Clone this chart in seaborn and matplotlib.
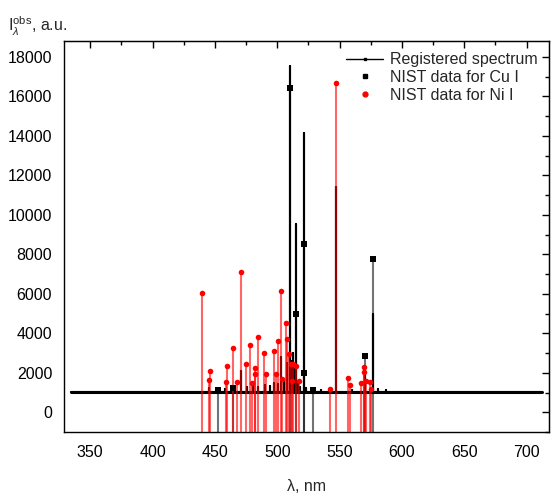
import matplotlib
matplotlib.use("Agg")
import matplotlib.pyplot as plt
import seaborn as sns
import pandas as pd
from matplotlib.lines import Line2D
from matplotlib.ticker import MultipleLocator

sns.set_style("white")
plt.rcParams['font.family'] = ['Liberation Sans', 'DejaVu Sans']
plt.rcParams['mathtext.fontset'] = 'custom'
plt.rcParams['mathtext.rm'] = 'Liberation Sans'
plt.rcParams['mathtext.it'] = 'Liberation Sans:italic'

# Registered spectrum: baseline level and emission peaks (wavelength nm, intensity a.u.)
base_level = 1050
spec_start, spec_end = 335, 712
peak_wl = [445.0, 452.6, 458.0, 464.5, 471.0, 476.0, 480.5, 485.0, 490.0, 494.0, 497.5, 500.5,
           502.9, 505.3, 507.8, 510.2, 511.5, 512.4, 513.5, 514.7, 516.5, 518.5, 521.1, 523.0,
           529.1, 535.0, 547.1, 560.0, 570.1, 577.1, 581.0, 587.0]
peak_int = [1250, 1200, 1180, 1350, 2100, 1300, 1450, 1300, 1400, 1350, 1500, 1450,
            2800, 1650, 2500, 17540, 2600, 3000, 2300, 9520, 1600, 1300, 14140, 1250,
            1200, 1150, 11420, 1150, 1900, 5000, 1200, 1150]

# NIST data for Cu I
cu_wl = [452.6, 464.4, 510.2, 514.7, 521.1, 521.6, 529.1, 570.1, 577.1]
cu_int = [1120, 1240, 16440, 4980, 8500, 2000, 1150, 2850, 7780]

# NIST data for Ni I
ni_wl = [439.5, 445.4, 446.0, 459.2, 459.8, 464.6, 468.1, 471.0, 475.1, 478.0, 480.0, 482.1, 482.4,
         484.9, 489.8, 491.1, 497.4, 499.3, 501.0, 502.9, 504.2, 507.2, 507.7, 509.1, 511.0, 512.0,
         512.8, 515.0, 517.1, 542.6, 547.1, 556.9, 558.6, 567.6, 569.3, 569.8, 571.0, 574.7, 575.3]
ni_int = [6030, 1620, 2110, 1515, 2360, 3260, 1510, 7110, 2430, 3390, 1480, 2250, 1930,
          3830, 3010, 1930, 3120, 1930, 3620, 6130, 1680, 4530, 3700, 2970, 2450, 1580,
          2450, 2330, 1580, 1190, 16660, 1750, 1400, 1500, 2300, 2040, 1600, 1550, 1200]

x_ticks = [350, 400, 450, 500, 550, 600, 650, 700]
y_ticks = [0, 2000, 4000, 6000, 8000, 10000, 12000, 14000, 16000, 18000]

# build the spectrum trace: baseline with sharp spikes at each peak
wl_trace, int_trace = [spec_start], [base_level]
for w, v in zip(peak_wl, peak_int):
    wl_trace += [w, w, w]
    int_trace += [base_level, v, base_level]
wl_trace.append(spec_end)
int_trace.append(base_level)
spec = pd.DataFrame({"wl": wl_trace, "I": int_trace})
cu = pd.DataFrame({"wl": cu_wl, "I": cu_int})
ni = pd.DataFrame({"wl": ni_wl, "I": ni_int})

FS = 11.5
YMIN, YMAX = -1000, 18800
XMIN, XMAX = 329, 718

fig = plt.figure(figsize=(5.51, 4.94), dpi=100)
ax = fig.add_axes([64/551, 1-432/494, (549-64)/551, (432-41)/494])

sns.lineplot(data=spec, x="wl", y="I", ax=ax, color="black", lw=1.5, estimator=None,
             sort=False, zorder=2)
ax.plot([spec_start, spec_end], [base_level, base_level], color="black", lw=2.2, zorder=2)
ax.vlines(cu["wl"], YMIN, cu["I"], color="black", alpha=0.55, lw=1.5, zorder=3)
ax.vlines(ni["wl"], YMIN, ni["I"], color="red", alpha=0.6, lw=1.5, zorder=4)
sns.scatterplot(data=cu, x="wl", y="I", ax=ax, color="black", marker="s", s=14,
                linewidth=0, zorder=5)
sns.scatterplot(data=ni, x="wl", y="I", ax=ax, color="red", marker="o", s=16,
                linewidth=0, zorder=6)

ax.set_xlim(XMIN, XMAX)
ax.set_ylim(YMIN, YMAX)
ax.set_xticks(x_ticks)
ax.set_yticks(y_ticks)
ax.xaxis.set_minor_locator(MultipleLocator(25))
ax.yaxis.set_minor_locator(MultipleLocator(1000))
ax.tick_params(which="both", direction="out", top=False, right=False, colors="black",
               labelsize=FS, width=1)
ax.tick_params(which="major", length=5)
ax.tick_params(which="minor", length=3)
ax.tick_params(axis="x", pad=4)
for s in ax.spines.values():
    s.set_color("black")
    s.set_linewidth(1)

secx = ax.secondary_xaxis("top")
secx.set_xticks(x_ticks)
secx.xaxis.set_minor_locator(MultipleLocator(25))
secx.tick_params(which="both", direction="in", labeltop=False, width=1, colors="black")
secx.tick_params(which="major", length=5)
secx.tick_params(which="minor", length=3)
secy = ax.secondary_yaxis("right")
secy.set_yticks(y_ticks)
secy.yaxis.set_minor_locator(MultipleLocator(1000))
secy.tick_params(which="both", direction="in", labelright=False, width=1, colors="black")
secy.tick_params(which="major", length=5)
secy.tick_params(which="minor", length=3)

ax.set_xlabel("λ, nm", fontsize=FS, labelpad=14)
ax.set_ylabel("")
fig.text(8/551, 1-32/494, r"I$_{\lambda}^{\mathrm{obs}}$, a.u.", fontsize=FS,
         ha="left", va="baseline")

handles = [
    Line2D([], [], color="black", lw=1, marker="s", markersize=2),
    Line2D([], [], color="black", lw=0, marker="s", markersize=3.5),
    Line2D([], [], color="red", lw=0, marker="o", markersize=3.5),
]
labels = ["Registered spectrum", "NIST data for Cu I", "NIST data for Ni I"]
ax.legend(handles, labels, loc="upper right", frameon=False, fontsize=FS,
          handlelength=2.3, handletextpad=0.45, labelspacing=0.18,
          borderaxespad=0.3, borderpad=0.4)

fig.savefig("out.png", dpi=100)
